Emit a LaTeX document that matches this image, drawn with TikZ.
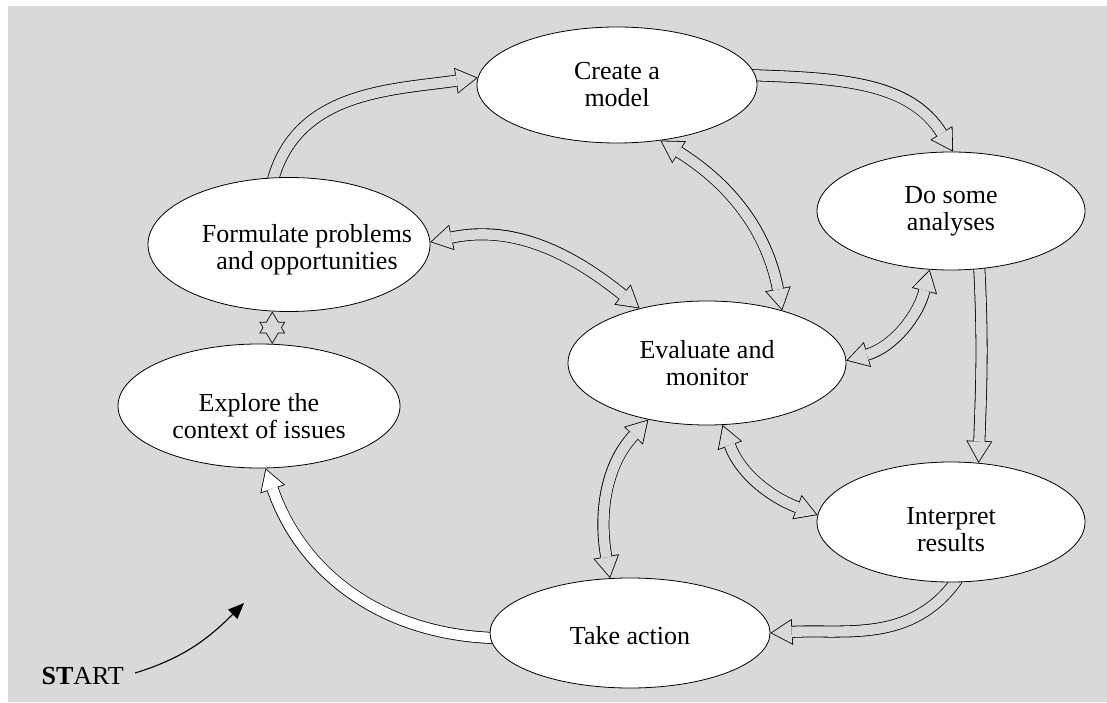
\documentclass[tikz,border=0pt]{standalone}
\usepackage{fontspec}
\setmainfont{Liberation Serif}
\usepackage{tikz}
\usetikzlibrary{shapes.geometric}
\usetikzlibrary{arrows.meta}
\definecolor{bggray}{RGB}{217,217,217}
\pgfdeclarelayer{back}
\pgfdeclarelayer{flows}
\pgfsetlayers{back,flows,main}
\tikzset{
  stage/.style={ellipse, draw, fill=white, line width=0.8pt, inner sep=0pt},
  txt/.style={align=center, inner sep=0pt, font=\fontsize{26}{27}\selectfont},
  oneway/.style={draw=#1, line width=10.4pt, shorten <=-4pt, shorten >=1.6pt,
    -{Triangle[length=19.6pt, width=23.2pt, line width=0pt]},
    preaction={draw=black, line width=12pt, shorten <=-4pt, shorten >=0pt,
      -{Triangle[length=22pt, width=26pt, line width=0pt]}}},
  oneway/.default=bggray,
  twoway/.style={draw=bggray, line width=10.4pt, shorten <=1.6pt, shorten >=1.6pt,
    {Triangle[length=19.6pt, width=23.2pt, line width=0pt]}-{Triangle[length=19.6pt, width=23.2pt, line width=0pt]},
    preaction={draw=black, line width=12pt, shorten <=0pt, shorten >=0pt,
      {Triangle[length=22pt, width=26pt, line width=0pt]}-{Triangle[length=22pt, width=26pt, line width=0pt]}}},
  pointer/.style={line width=1.1pt, -{Triangle[length=16pt, width=13pt]}}
}

\begin{document}
\begin{tikzpicture}[x=1pt,y=1pt]
    \useasboundingbox (0,0) rectangle (1107,702);
    \begin{pgfonlayer}{back}
      \fill[bggray] (8,0) rectangle (1107,696);
    \end{pgfonlayer}
    % the stages
    \node[stage, minimum width=280pt, minimum height=116pt] (model) at (617,617) {};
    \node[stage, minimum width=268pt, minimum height=118pt] (analyses) at (951,491) {};
    \node[stage, minimum width=282pt, minimum height=134pt] (form) at (289,457.5) {};
    \node[stage, minimum width=278pt, minimum height=124pt] (eval) at (707,339) {};
    \node[stage, minimum width=282pt, minimum height=124pt] (explore) at (259,296) {};
    \node[stage, minimum width=268pt, minimum height=120pt] (interpret) at (951,180) {};
    \node[stage, minimum width=280pt, minimum height=110pt] (action) at (630,69) {};
    \node[txt] at (model) {Create a\\model};
    \node[txt] at (analyses) {Do some\\analyses};
    \node[txt] at ([shift={(18pt,-5pt)}]form) {Formulate problems\\and opportunities};
    \node[txt] at (eval) {Evaluate and\\monitor};
    \node[txt] at ([yshift=-10pt]explore) {Explore the\\context of issues};
    \node[txt] at ([yshift=-8pt]interpret) {Interpret\\results};
    \node[txt] at ([yshift=-3pt]action) {Take action};
    % the flows
    \begin{pgfonlayer}{flows}
      \draw[oneway] (form.103) to[out=75,in=188] (model.177);
      \draw[oneway] (model.4) to[out=-2,in=122] (analyses.88);
      \draw[twoway] (model.-52) to[out=-32,in=101] (eval.35);
      \draw[twoway] (form.1) to[out=12,in=141] (eval.141);
      \draw[twoway] (eval.1) to[out=16,in=-104] (analyses.-110);
      \draw[oneway] (analyses.-64) to[out=-87,in=88] (interpret.65);
      \draw[twoway] (eval.-76) to[out=-70,in=159] (interpret.177);
      \draw[twoway] (eval.-136) to[out=227,in=100] (action.110);
      \draw[twoway] (form.-104) -- (explore.78);
      \draw[oneway=white] (action.182) to[out=178,in=-71] (explore.-84);
      \draw[oneway] (interpret.-86) to[out=-125,in=3] (action.0);
    \end{pgfonlayer}
    % where to begin
    \node[txt, anchor=base east] (start) at (124,18) {\textbf{ST}ART};
    \coordinate (aim) at (244,99);
    \draw[pointer] ([shift={(11pt,11pt)}]start.base east) to[out=17,in=225] (aim);
\end{tikzpicture}
\end{document}
